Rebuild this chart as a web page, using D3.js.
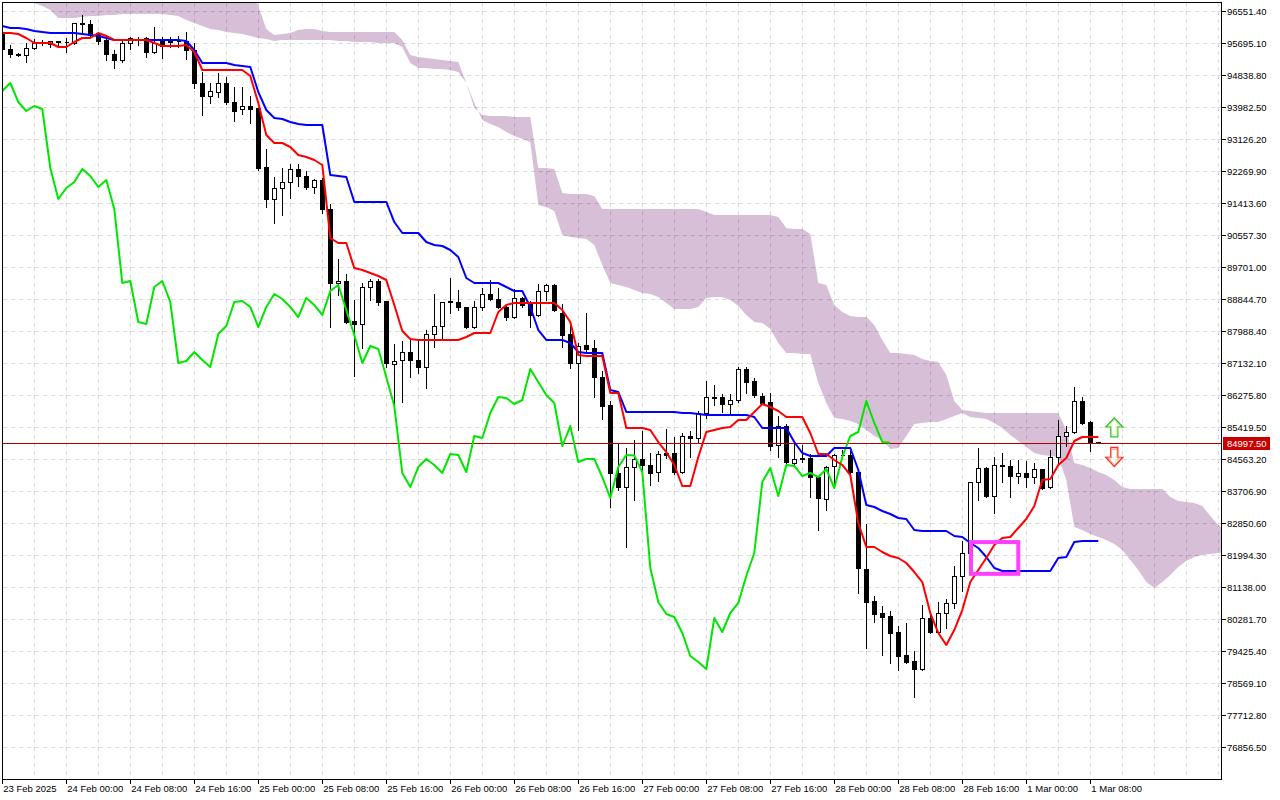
<!DOCTYPE html>
<html>
<head>
<meta charset="utf-8">
<script src="https://cdn.jsdelivr.net/npm/d3@7/dist/d3.min.js"></script>
<style>
  body { margin: 0; background: #fff; }
  svg { display: block; }
  text { font-family: "Liberation Sans", Arial, sans-serif; font-size: 9.5px; fill: #000; }
</style>
</head>
<body>
<svg width="1280" height="800"></svg>
<script>
// hourly bars, first one 23 Feb 2025 16:00
const open = [95963,95535,95401,95374,95562,95722,95669,95749,95722,95695,
  96231,96204,95963,95776,95401,95240,95695,95776,95829,95454,
  95749,95749,95749,95749,95508,94625,94277,94384,94625,94116,
  93929,94009,93956,92377,91521,91815,91976,92324,92136,91842,
  92029,91253,89273,89326,88256,88176,89166,89326,88791,87105,
  87212,87426,87212,87025,87908,88122,88764,88764,88631,88095,
  88631,88979,88845,88631,88363,88872,88764,88417,89059,89219,
  88470,87908,87132,87614,87534,86757,86008,84189,83814,84349,
  84563,84403,84215,84724,84724,84215,85179,85125,85794,86222,
  86222,86035,86142,86972,86650,86249,86088,84938,85446,84456,
  84590,84590,84081,83493,84376,84670,84670,84215,81620,80763,
  80442,80362,79934,79318,79158,78944,80308,79934,80442,80710,
  81432,82048,83948,84322,83573,84403,84376,84108,84189,84081,
  84296,83814,84617,85179,85286,86115,85553,85018];

const high = [96043,95669,95454,95722,95829,95802,95776,95776,95856,96231,
  96471,96338,96016,95883,95535,95802,95883,95883,95883,96150,
  95883,95883,95909,96016,95722,94946,94652,94919,94812,94545,
  94545,94304,93983,92886,92136,92377,92484,92484,92297,92083,
  92109,91414,89942,89541,88845,89300,89407,89407,88818,87667,
  87748,87774,87748,88042,89005,88764,89433,89112,88657,88818,
  89166,89380,89166,88684,89139,88925,88818,89273,89273,89273,
  88738,88149,87694,88497,87774,86945,86142,85018,84884,85098,
  85339,84750,84804,85393,85179,85286,85339,85874,86677,86570,
  86329,86329,87052,87052,86757,86356,86356,85741,85527,84991,
  84965,84724,84135,84403,84724,84831,84804,84269,82851,80924,
  80656,80522,80121,80201,79452,80683,80522,80763,80844,81727,
  82396,83974,84884,84376,84643,84750,84563,84563,84536,84483,
  84322,84831,85634,85473,86517,86249,85607,85030];

const low = [95454,95321,95347,95187,95535,95642,95588,95588,95454,95669,
  95963,95856,95669,95240,95026,95187,95535,95642,95321,95428,
  95294,95588,95588,95267,94491,93769,94090,94250,94063,93608,
  93795,93555,92297,91307,90879,91093,91548,91869,91788,91681,
  91146,88095,88952,88203,86784,87534,88818,88684,87025,86008,
  86088,86757,86865,86463,87560,87748,88470,88550,88069,88069,
  88550,88818,88604,88283,88336,88631,88095,88390,88818,88524,
  87560,86998,85339,87426,86222,85634,83279,83734,82208,83466,
  84269,83867,83974,84590,84162,84189,84617,84991,85660,86008,
  85821,85794,86088,86329,86222,86035,84804,84617,84403,84403,
  84483,83546,82663,83198,83814,84590,84189,80977,79506,80201,
  79318,79104,78917,79104,78194,78917,79907,79907,80041,80576,
  81031,82021,83466,83546,83118,83948,83546,83921,83814,83921,
  83760,83787,84456,84911,85259,85500,84777,84990];

const close = [95535,95401,95374,95562,95695,95695,95749,95722,95715,96231,
  96204,95909,95749,95401,95240,95695,95829,95802,95454,95695,
  95615,95722,95740,95508,94625,94277,94411,94625,94116,93876,
  94009,93929,92350,91521,91815,91976,92324,92136,91842,92029,
  91253,89273,89326,88229,88176,89166,89326,88764,87132,87186,
  87426,87212,87025,87908,88122,88764,88791,88631,88095,88631,
  88979,88845,88631,88363,88872,88684,88417,89059,89219,88550,
  87881,87132,87587,87507,86757,85981,84189,83814,84349,84563,
  84403,84189,84697,84670,84215,85179,85125,85794,86222,86196,
  86035,86142,86972,86624,86276,86062,84911,85446,84483,84563,
  84563,84081,83520,84349,84670,84660,84215,81646,80736,80415,
  80335,79907,79291,79131,78944,80308,79934,80442,80710,81432,
  82048,83948,84322,83573,84403,84376,84108,84189,84081,84296,
  83787,84617,85179,85286,86115,85527,85018,84997.5];

// Ichimoku lines
const tenkan = [95963,95963,95936,95829,95695,95695,95695,95588,95588,95722,
  95829,95829,95963,95883,95776,95776,95776,95776,95776,95695,
  95615,95615,95615,95642,95454,94973,94973,94973,94973,94973,
  94973,94812,94090,93233,93019,93019,92912,92698,92645,92564,
  92431,90477,90343,90343,89672,89619,89541,89460,89353,88684,
  87988,87774,87748,87748,87748,87748,87748,87748,87828,87935,
  87935,87935,88497,88684,88738,88738,88738,88738,88738,88738,
  88550,88229,87346,87319,87319,87319,86329,86329,85393,85393,
  85393,85339,85018,84750,84403,83841,83841,84617,85286,85339,
  85393,85420,85607,85607,85821,86035,85955,85848,85687,85687,
  85687,85259,84697,84697,84536,84403,84135,82851,82208,82208,
  82075,81968,81914,81780,81539,81271,80442,79907,79585,79987,
  80522,81271,81593,81914,82262,82449,82476,82717,82957,83306,
  84001,84028,84403,84590,85045,85152,85152,85152];

const kijun = [96150,96097,96097,96070,96016,95990,95963,95963,95963,95963,
  95936,95909,95883,95829,95776,95776,95776,95776,95776,95776,
  95776,95776,95776,95749,95508,95160,95160,95160,95160,95107,
  95080,95053,94384,93902,93688,93662,93581,93528,93501,93501,
  93501,92163,92136,92109,91441,91441,91441,91441,91441,90905,
  90611,90611,90611,90370,90290,90263,90156,89969,89407,89273,
  89273,89273,89273,89166,89059,89059,88631,88015,87748,87748,
  87748,87667,87426,87400,87400,87400,86410,86356,85821,85821,
  85821,85821,85821,85821,85821,85794,85794,85767,85741,85741,
  85741,85741,85741,85741,85687,85393,85393,85393,85393,85018,
  84724,84643,84643,84643,84858,84858,84858,84269,83332,83279,
  83172,83091,82984,82957,82663,82637,82637,82637,82637,82503,
  82476,82316,82182,81941,81646,81566,81566,81566,81566,81566,
  81566,81566,81914,81941,82342,82369,82369,82369];

// cloud edges, bar 0 .. 153 (runs 16 bars past the last candle)
const senkouB = [97400,97400,97400,97400,97400,97400,97400,97400,97400,97400,
  97400,97400,97400,97400,97400,97400,97400,97400,97400,97400,
  97400,97400,97400,97400,97400,97400,97400,97400,97400,97400,
  97400,97400,96685,96070,95909,95936,95963,96043,96070,96070,
  96016,95990,95990,95990,95990,95990,95990,95990,95990,95990,
  95776,95374,95321,95294,95267,95240,95214,95187,94625,93956,
  93769,93742,93742,93742,93715,93715,93715,92350,92350,92324,
  91681,91655,91655,91655,91601,91253,91253,91253,91253,91253,
  91253,91253,91253,91253,91253,91253,91253,91253,91173,91093,
  91093,91093,91093,91093,91093,91093,91093,91039,90745,90718,
  90718,90584,89273,89219,88684,88497,88390,88363,88363,88149,
  87748,87400,87400,87373,87346,87239,87186,87159,86811,86115,
  85874,85848,85821,85794,85794,85794,85794,85794,85794,85794,
  85794,85794,85794,85339,84456,84403,84322,84215,84135,84001,
  83814,83760,83760,83760,83760,83760,83546,83439,83412,83386,
  83306,83038,82797,82663];

const senkouA = [97300,97300,97300,97060,96766,96685,96578,96364,96364,96364,
  96391,96418,96418,96445,96445,96471,96471,96471,96471,96471,
  96471,96445,96418,96311,96231,96150,96070,96043,95990,95963,
  95936,95883,95829,95802,95749,95776,95776,95776,95776,95776,
  95776,95776,95749,95749,95722,95722,95722,95695,95695,95695,
  95588,95160,95026,95026,95000,95000,94973,94919,94625,94090,
  93635,93528,93447,93314,93207,93126,93046,91360,91307,91200,
  90557,90504,90477,90450,90290,89755,89273,89219,89166,89085,
  89005,88979,88898,88738,88577,88577,88577,88631,88872,88898,
  88898,88818,88657,88417,88229,88203,88042,87667,87400,87400,
  87373,87373,86597,86062,85660,85634,85580,85500,85339,85179,
  85072,84831,84858,85179,85500,85527,85553,85553,85634,85714,
  85794,85687,85660,85634,85527,85393,85206,85045,84884,84724,
  84670,84643,84617,84001,82744,82663,82557,82476,82396,82289,
  82128,81860,81593,81271,81111,81271,81459,81673,81834,81941,
  81994,82021,82048,82075];

const priceTicks = [96551.40,95695.10,94838.80,93982.50,93126.20,92269.90,91413.60,90557.30,
  89701.00,88844.70,87988.40,87132.10,86275.80,85419.50,84563.20,83706.90,82850.60,81994.30,
  81138.00,80281.70,79425.40,78569.10,77712.80,76856.50];

const lastPrice = 84997.50;
const chikouShift = 26;

// signal arrows and the marked box (drawing objects on the chart)
const signals = [
  { bar: 139, price: 85407, dir: "up" },
  { bar: 139, price: 84617, dir: "down" }
];
const markBox = { from: Date.UTC(2025, 1, 28, 17, 5), to: Date.UTC(2025, 1, 28, 23, 0), top: 82340, bottom: 81490 };

const HOUR = 3600e3;
const firstBar = Date.UTC(2025, 1, 23, 16);
const barTime = i => new Date(firstBar + i * HOUR);

const svg = d3.select("svg");
const plot = { left: 2.5, top: 2.5, right: 1221.5, bottom: 779.5 };

const x = d3.scaleUtc()
  .domain([new Date(firstBar), new Date(firstBar + 152.5 * HOUR)])
  .range([2.3, 1222.3]);
const y = d3.scaleLinear().domain([76856.5, 96551.4]).range([747, 11]);

const crisp = v => Math.round(v) + 0.5;

svg.append("defs").append("clipPath").attr("id", "clip")
  .append("rect")
  .attr("x", plot.left).attr("y", plot.top)
  .attr("width", plot.right - plot.left).attr("height", plot.bottom - plot.top);

const chart = svg.append("g").attr("clip-path", "url(#clip)");

// kumo
chart.append("path")
  .datum(d3.range(senkouA.length))
  .attr("fill", "#d8bfd8")
  .attr("d", d3.area()
    .x(i => x(barTime(i)))
    .y0(i => y(senkouA[i]))
    .y1(i => y(senkouB[i])));

// dotted grid
const grid = chart.append("g")
  .attr("stroke", "#dadada")
  .attr("stroke-dasharray", "4,4")
  .style("mix-blend-mode", "multiply")
  .attr("shape-rendering", "crispEdges");

grid.selectAll("line.h").data(priceTicks).join("line")
  .attr("class", "h")
  .attr("x1", plot.left).attr("x2", plot.right)
  .attr("y1", d => crisp(y(d))).attr("y2", d => crisp(y(d)));

grid.selectAll("line.v").data(x.ticks(d3.utcHour.every(4))).join("line")
  .attr("class", "v")
  .attr("y1", plot.top).attr("y2", plot.bottom)
  .attr("x1", d => crisp(x(d))).attr("x2", d => crisp(x(d)));

// candles
const bars = d3.range(close.length).map(i => ({
  t: barTime(i), o: open[i], h: high[i], l: low[i], c: close[i]
}));

const candle = chart.append("g")
  .attr("shape-rendering", "crispEdges")
  .selectAll("g").data(bars).join("g");

candle.append("line")
  .attr("stroke", "#000")
  .attr("x1", d => crisp(x(d.t))).attr("x2", d => crisp(x(d.t)))
  .attr("y1", d => crisp(y(d.h))).attr("y2", d => crisp(y(d.l)));

candle.append("path")
  .attr("stroke", "#000")
  .attr("fill", d => d.c >= d.o ? "#fff" : "#000")
  .attr("d", d => {
    const cx = crisp(x(d.t));
    const y0 = crisp(y(Math.max(d.o, d.c)));
    const y1 = crisp(y(Math.min(d.o, d.c)));
    return `M${cx - 2},${y0}H${cx + 2}V${y1}H${cx - 2}Z`;
  });

// last price line
chart.append("line")
  .attr("stroke", "#b00000")
  .attr("shape-rendering", "crispEdges")
  .attr("x1", plot.left).attr("x2", plot.right)
  .attr("y1", crisp(y(lastPrice))).attr("y2", crisp(y(lastPrice)));

// ichimoku lines
const line = d3.line().x(d => x(d.t)).y(d => y(d.v));
const series = [
  { name: "chikou", colour: "#00e600", pts: close.slice(chikouShift).map((v, i) => ({ t: barTime(i), v })) },
  { name: "kijun", colour: "#0000ff", pts: kijun.map((v, i) => ({ t: barTime(i), v })) },
  { name: "tenkan", colour: "#ff0000", pts: tenkan.map((v, i) => ({ t: barTime(i), v })) }
];

chart.selectAll("path.ind").data(series).join("path")
  .attr("class", "ind")
  .attr("fill", "none")
  .attr("stroke", d => d.colour)
  .attr("stroke-width", 2)
  .attr("stroke-linejoin", "round")
  .attr("d", d => line(d.pts));

// marked box
chart.append("rect")
  .attr("x", x(new Date(markBox.from)))
  .attr("y", y(markBox.top))
  .attr("width", x(new Date(markBox.to)) - x(new Date(markBox.from)))
  .attr("height", y(markBox.bottom) - y(markBox.top))
  .attr("fill", "none")
  .attr("stroke", "#ff40ff")
  .attr("stroke-width", 4);

// arrows
const arrowUp = "M0,-9.5L8.5,-0.5L3.5,-0.5L3.5,9.5L-3.5,9.5L-3.5,-0.5L-8.5,-0.5Z";
const arrowDown = "M0,9.5L8.5,0.5L3.5,0.5L3.5,-9.5L-3.5,-9.5L-3.5,0.5L-8.5,0.5Z";
const arrow = chart.selectAll("g.sig").data(signals).join("g")
  .attr("class", "sig")
  .attr("transform", d => `translate(${x(barTime(d.bar))},${y(d.price)})`);
arrow.append("path")
  .attr("d", d => d.dir === "up" ? arrowUp : arrowDown)
  .attr("fill", "none")
  .attr("stroke", d => d.dir === "up" ? "#2ec02e" : "#ff2a2a")
  .attr("stroke-width", 1.3);
arrow.append("path")
  .attr("d", d => d.dir === "up" ? arrowUp : arrowDown)
  .attr("transform", "scale(0.78)")
  .attr("fill", "none")
  .attr("stroke", d => d.dir === "up" ? "#b8e860" : "#ffa060")
  .attr("stroke-width", 1);

// frame
svg.append("rect")
  .attr("x", plot.left).attr("y", plot.top)
  .attr("width", plot.right - plot.left).attr("height", plot.bottom - plot.top)
  .attr("fill", "none").attr("stroke", "#000")
  .attr("shape-rendering", "crispEdges");

// price axis
const yAxis = svg.append("g").attr("shape-rendering", "crispEdges");
yAxis.selectAll("line").data(priceTicks).join("line")
  .attr("stroke", "#000")
  .attr("x1", plot.right).attr("x2", plot.right + 4)
  .attr("y1", d => crisp(y(d))).attr("y2", d => crisp(y(d)));
yAxis.selectAll("text").data(priceTicks).join("text")
  .attr("x", 1227)
  .attr("y", d => y(d) + 3.5)
  .text(d => d.toFixed(2));

const tag = svg.append("g").attr("transform", `translate(0,${crisp(y(lastPrice))})`);
tag.append("rect")
  .attr("x", 1223).attr("y", -6.5).attr("width", 47).attr("height", 13)
  .attr("fill", "#c80000");
tag.append("text")
  .attr("x", 1227).attr("y", 3.5)
  .style("fill", "#fff")
  .text(lastPrice.toFixed(2));

// time axis
const timeTicks = d3.utcHour.every(8).range(barTime(0), new Date(barTime(close.length - 1).getTime() + 1));
const fmt = d3.utcFormat("%-d %b %H:%M");
const xAxis = svg.append("g");
xAxis.selectAll("line").data(timeTicks).join("line")
  .attr("stroke", "#000")
  .attr("shape-rendering", "crispEdges")
  .attr("x1", d => crisp(x(d))).attr("x2", d => crisp(x(d)))
  .attr("y1", plot.bottom).attr("y2", plot.bottom + 4);
xAxis.selectAll("text").data(timeTicks).join("text")
  .attr("x", d => x(d) + 1)
  .attr("y", 792)
  .text((d, i) => i === 0 ? "23 Feb 2025" : fmt(d));
</script>
</body>
</html>
